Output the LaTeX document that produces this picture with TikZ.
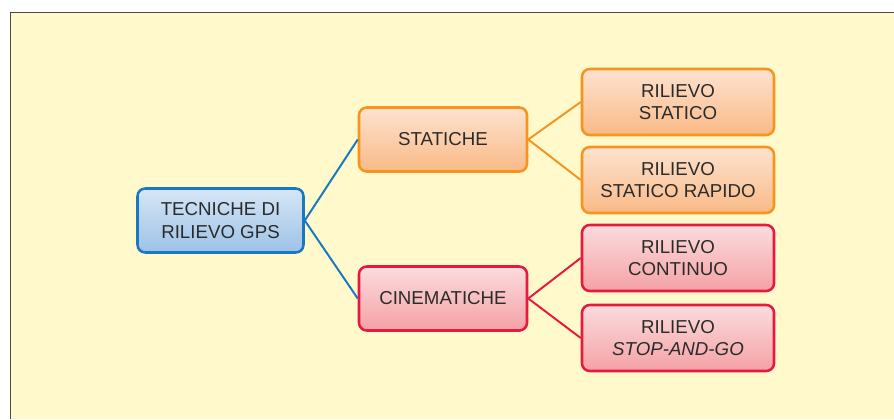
\documentclass[tikz,border=0pt]{standalone}
\usepackage{fontspec}
\setmainfont{Liberation Sans}
\usepackage{xcolor}
\usepackage{tikz}
\definecolor{ink}{HTML}{2B2B2B}
\definecolor{frame}{HTML}{4A4A4A}
\definecolor{paper}{HTML}{FFF9CC}
\definecolor{bluee}{HTML}{1A78C2}
\definecolor{bluetop}{HTML}{D6E6F6}
\definecolor{bluebot}{HTML}{9DC2E6}
\definecolor{orng}{HTML}{F7931E}
\definecolor{orngtop}{HTML}{FDE2D0}
\definecolor{orngbot}{HTML}{F9BA86}
\definecolor{redd}{HTML}{E8193F}
\definecolor{redtop}{HTML}{FBDCDD}
\definecolor{redbot}{HTML}{F4A1A5}

\begin{document}
\begin{tikzpicture}[x=1cm, y=1cm, line join=round,
    box/.style={rounded corners=5.5pt, draw, line width=1.8pt, align=center,
                text=ink, font=\fontsize{13.3}{16}\selectfont},
    rootbox/.style={box, draw=bluee, top color=bluetop, bottom color=bluebot,
                minimum width=4.15cm, minimum height=1.6cm},
    midbox/.style={box, minimum width=4.2cm, minimum height=1.6cm},
    leafbox/.style={box, minimum width=4.8cm, minimum height=1.65cm},
    orng box/.style={draw=orng, top color=orngtop, bottom color=orngbot},
    red box/.style={draw=redd, top color=redtop, bottom color=redbot},
    link/.style={line width=1.4pt}]
  % page and frame
  \useasboundingbox (0,0) rectangle (22.35,-10.475);
  \fill[paper] (0.2625,-0.3125) rectangle (22.35,-10.475);
  \draw[frame, line width=1.2pt] (0.2625,-10.475) -- (0.2625,-0.3125) -- (22.35,-0.3125);
  % nodes
  \node[rootbox] (root) at (5.5125,-5.5125) {TECNICHE DI\\RILIEVO GPS};
  \node[midbox, orng box] (stat) at (11.075,-3.4875) {STATICHE};
  \node[midbox, red box]  (cine) at (11.075,-7.4625) {CINEMATICHE};
  \node[leafbox, orng box] (rs)  at (16.95,-2.55) {RILIEVO\\STATICO};
  \node[leafbox, orng box] (rsr) at (16.95,-4.5)  {RILIEVO\\STATICO RAPIDO};
  \node[leafbox, red box]  (rc)  at (16.95,-6.45) {RILIEVO\\CONTINUO};
  \node[leafbox, red box]  (rsg) at (16.95,-8.45) {RILIEVO\\\textit{STOP-AND-GO}};
  % connectors
  \draw[link, bluee] (root.east) -- (stat.west);
  \draw[link, bluee] (root.east) -- (cine.west);
  \draw[link, orng] (stat.east) -- (rs.west);
  \draw[link, orng] (stat.east) -- (rsr.west);
  \draw[link, redd] (cine.east) -- (rc.west);
  \draw[link, redd] (cine.east) -- (rsg.west);
\end{tikzpicture}
\end{document}
